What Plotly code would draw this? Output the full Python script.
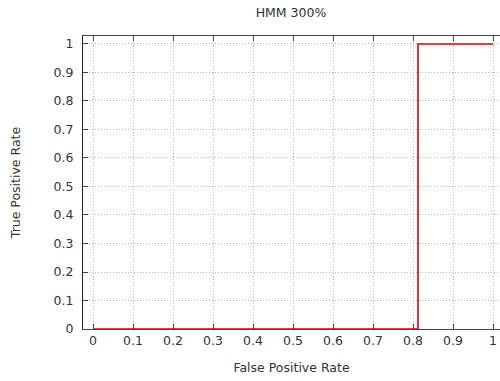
import plotly.graph_objects as go

fpr = [0.0, 0.8125, 0.8125, 1.0]
tpr = [0.0, 0.0, 1.0, 1.0]
x_ticks = [0, 0.1, 0.2, 0.3, 0.4, 0.5, 0.6, 0.7, 0.8, 0.9, 1]
x_tick_labels = ["0", "0.1", "0.2", "0.3", "0.4", "0.5", "0.6", "0.7", "0.8", "0.9", "1"]
y_ticks = x_ticks
y_tick_labels = x_tick_labels

FONT = "DejaVu Sans"
TXT = "#333333"

fig = go.Figure()
fig.add_trace(go.Scatter(x=fpr, y=tpr, mode="lines",
                         line=dict(color="#e0000a", width=1.6),
                         showlegend=False, hoverinfo="skip"))

fig.update_layout(
    width=500, height=381,
    margin=dict(l=83, r=0, t=36, b=52, autoexpand=False),
    paper_bgcolor="white", plot_bgcolor="white",
    font=dict(family=FONT, size=12.5, color=TXT),
    title=dict(text="HMM 300%", x=0.582, xanchor="center", y=0.967, yanchor="middle",
               font=dict(family=FONT, size=12.5, color=TXT)),
    xaxis=dict(range=[-0.025, 1.0175], tickvals=x_ticks, ticktext=x_tick_labels,
               automargin=False,
               showgrid=True, gridcolor="#b8b8b8", griddash="1px,2px", gridwidth=1,
               zeroline=False, showline=True, linecolor="#444444", linewidth=1,
               mirror="ticks", ticks="inside", ticklen=5, tickcolor="#444444",
               title=dict(text="False Positive Rate", standoff=16,
                          font=dict(family=FONT, size=12.5, color=TXT)),
               tickfont=dict(family=FONT, size=12.5, color=TXT)),
    yaxis=dict(range=[0, 1.028], tickvals=y_ticks, ticktext=y_tick_labels,
               automargin=False,
               showgrid=True, gridcolor="#b8b8b8", griddash="1px,2px", gridwidth=1,
               zeroline=False, showline=True, linecolor="#222222", linewidth=1,
               mirror=False, ticks="inside", ticklen=5, tickcolor="#444444",
               ticklabelstandoff=6,
               title=dict(text="True Positive Rate", standoff=30,
                          font=dict(family=FONT, size=12.5, color=TXT)),
               tickfont=dict(family=FONT, size=12.5, color=TXT)),
)

fig.write_html(
    "out.html",
    config={"displayModeBar": False},
    post_script="document.body.style.margin='0';document.body.style.overflow='hidden';",
)
